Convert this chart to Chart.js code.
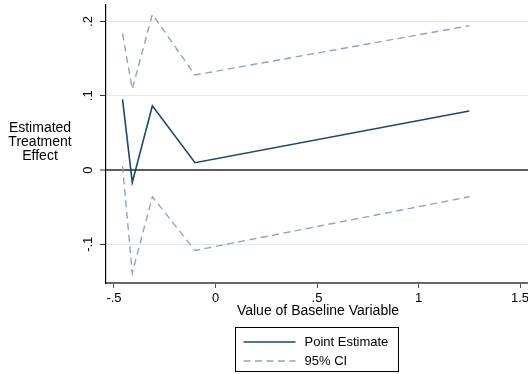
<!DOCTYPE html>
<html><head><meta charset="utf-8">
<script src="https://cdn.jsdelivr.net/npm/chart.js@4.4.1/dist/chart.umd.min.js"></script>
<style>html,body{margin:0;padding:0;background:#fff;overflow:hidden}#wrap{width:560px;height:374px}</style>
</head><body><div id="wrap"><canvas id="c" width="560" height="374"></canvas></div>
<script>
const baselineValues = [-0.458, -0.410, -0.311, -0.101, 1.250];
const pointEstimate = [0.0952, -0.0166, 0.0866, 0.0098, 0.0795];
const ciUpper = [0.184, 0.109, 0.2098, 0.128, 0.1944];
const ciLower = [0.0054, -0.1388, -0.036, -0.1083, -0.036];
const xTickValues = [-0.5, 0, 0.5, 1, 1.5];
const xTickLabels = ['-.5', '0', '.5', '1', '1.5'];
const yTickValues = [-0.1, 0, 0.1, 0.2];
const yTickLabels = ['-.1', '0', '.1', '.2'];
const seriesLabels = ['Point Estimate', '95% CI'];
const xTitle = 'Value of Baseline Variable';
const yTitleLines = ['Estimated', 'Treatment', 'Effect'];

const FONT = '"Liberation Sans", Arial, Helvetica, sans-serif';
Chart.defaults.font.family = FONT;
Chart.defaults.color = '#000';

const toPts = ys => baselineValues.map((x, i) => ({x: x, y: ys[i]}));

const stataPlugin = {
  id: 'stata',
  afterDraw(chart) {
    const ctx = chart.ctx, ys = chart.scales.y, area = chart.chartArea;
    ctx.save();
    ctx.fillStyle = '#000';
    ctx.font = '13px ' + FONT;
    ctx.textAlign = 'center';
    ctx.textBaseline = 'alphabetic';
    yTickValues.forEach((v, i) => {
      const py = ys.getPixelForValue(v);
      ctx.save();
      ctx.translate(area.left - 14, py);
      ctx.rotate(-Math.PI / 2);
      ctx.fillText(yTickLabels[i], 0, 0);
      ctx.restore();
    });
    // y axis title (horizontal, multi-line)
    ctx.font = '14px ' + FONT;
    ctx.textBaseline = 'middle';
    const cy = (area.top + area.bottom) / 2;
    yTitleLines.forEach((t, i) => ctx.fillText(t, 40, cy - 16 + i * 14));
    // legend
    const items = chart.data.datasets.filter(d => d.showInLegend);
    ctx.font = '13px ' + FONT;
    const textW = Math.max(...items.map(d => ctx.measureText(d.label).width));
    const padL = 8, sample = 52, gap = 9, padR = 10;
    const w = Math.round(padL + sample + gap + textW + padR), h = 44;
    const cx = (area.left + area.right) / 2 - 2;
    const left = Math.round(cx - w / 2) + 0.5, top = Math.round(area.bottom + 44) + 0.5;
    ctx.strokeStyle = '#000'; ctx.lineWidth = 1; ctx.setLineDash([]);
    ctx.strokeRect(left, top, w, h);
    items.forEach((d, i) => {
      const ry = Math.round(top + 14 + i * 19.7);
      ctx.strokeStyle = d.borderColor; ctx.lineWidth = d.borderWidth;
      ctx.setLineDash(d.borderDash || []);
      ctx.beginPath(); ctx.moveTo(left + padL, ry); ctx.lineTo(left + padL + sample, ry); ctx.stroke();
      ctx.setLineDash([]);
      ctx.fillStyle = '#000'; ctx.textAlign = 'left'; ctx.textBaseline = 'middle';
      ctx.fillText(d.label, left + padL + sample + gap, ry);
    });
    ctx.restore();
  }
};

new Chart(document.getElementById('c'), {
  type: 'line',
  data: {
    datasets: [
      {label: seriesLabels[0], data: toPts(pointEstimate), borderColor: '#1a476f', borderWidth: 1.6, pointRadius: 0, tension: 0, fill: false, showInLegend: true},
      {label: seriesLabels[1], data: toPts(ciUpper), borderColor: '#8fa5bd', borderWidth: 1.4, borderDash: [7, 4.5], pointRadius: 0, tension: 0, fill: false, showInLegend: true},
      {label: seriesLabels[1], data: toPts(ciLower), borderColor: '#8fa5bd', borderWidth: 1.4, borderDash: [7, 4.5], pointRadius: 0, tension: 0, fill: false, showInLegend: false}
    ]
  },
  options: {
    responsive: false,
    animation: false,
    devicePixelRatio: 1,
    layout: {padding: {top: 5, right: 30, bottom: 50, left: 0}},
    plugins: {legend: {display: false}, tooltip: {enabled: false}},
    scales: {
      x: {
        type: 'linear', min: -0.5394, max: 1.549,
        afterBuildTicks: s => { s.ticks = xTickValues.map(v => ({value: v})); },
        afterFit: s => { s.height = 41; },
        grid: {display: true, drawOnChartArea: false, drawTicks: true, tickLength: 5, tickColor: '#555', tickWidth: 1, color: '#555'},
        border: {display: true, color: '#666', width: 2},
        ticks: {padding: 3, color: '#000', font: {size: 13}, maxRotation: 0, autoSkip: false,
                callback: (v, i) => xTickLabels[i]},
        title: {display: true, text: xTitle, color: '#000', font: {size: 14}, padding: {top: 0, bottom: 4}}
      },
      y: {
        type: 'linear', min: -0.1522, max: 0.2223,
        afterBuildTicks: s => { s.ticks = yTickValues.map(v => ({value: v})); },
        afterFit: s => { s.width = 106; },
        grid: {
          color: c => (c.tick && c.tick.value === 0) ? '#5c5c5c' : '#e3eaee',
          lineWidth: c => (c.tick && c.tick.value === 0) ? 2 : 1,
          drawTicks: true, tickLength: 6, tickColor: '#333', tickWidth: 1
        },
        border: {display: true, color: '#000', width: 1.2},
        ticks: {display: false}
      }
    }
  },
  plugins: [stataPlugin]
});
</script>
</body></html>
